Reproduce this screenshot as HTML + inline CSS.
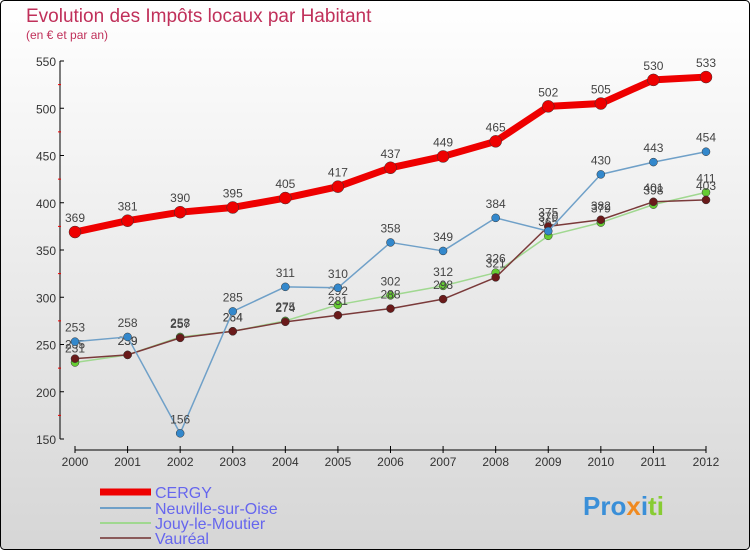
<!DOCTYPE html>
<html><head><meta charset="utf-8"><style>
body{margin:0;width:750px;height:550px;overflow:hidden;font-family:"Liberation Sans",sans-serif}
</style></head><body>
<svg width="750" height="550" xmlns="http://www.w3.org/2000/svg" font-family="Liberation Sans, sans-serif">
<defs><linearGradient id="bg" x1="0" y1="0" x2="0" y2="1"><stop offset="0" stop-color="#ffffff"/><stop offset="1" stop-color="#d6d6d6"/></linearGradient></defs>
<rect x="0.5" y="0.5" width="749" height="549" rx="4" fill="url(#bg)" stroke="#000"/>
<text x="26" y="22" font-size="19" fill="#c0305a">Evolution des Impôts locaux par Habitant</text>
<text x="26" y="39" font-size="12" fill="#c0305a">(en € et par an)</text>
<g id="axes"></g><g id="series"></g>
<g>
<line x1="100" y1="492" x2="151" y2="492" stroke="#ee0000" stroke-width="7"/>
<text x="155" y="498" font-size="16" fill="#6666ee">CERGY</text>
<line x1="100" y1="508" x2="151" y2="508" stroke="#6fa0c8" stroke-width="2"/>
<text x="155" y="514" font-size="16" fill="#6666ee">Neuville-sur-Oise</text>
<line x1="100" y1="523" x2="151" y2="523" stroke="#a0d890" stroke-width="2"/>
<text x="155" y="529" font-size="16" fill="#6666ee">Jouy-le-Moutier</text>
<line x1="100" y1="538" x2="151" y2="538" stroke="#8a5a5a" stroke-width="2"/>
<text x="155" y="544" font-size="16" fill="#6666ee">Vauréal</text>
</g>
<text x="583" y="515" font-size="26" font-weight="bold"><tspan fill="#3a8fd8">Pro</tspan><tspan fill="#f08a20">x</tspan><tspan fill="#3a8fd8">i</tspan><tspan fill="#88cc33">ti</tspan></text>
</svg>
<script>
const years=[2000,2001,2002,2003,2004,2005,2006,2007,2008,2009,2010,2011,2012];
const cergy=[369,381,390,395,405,417,437,449,465,502,505,530,533];
const neuville=[253,258,156,285,311,310,358,349,384,370,430,443,454];
const jouy=[231,239,258,264,275,292,302,312,326,365,379,398,411];
const vaureal=[235,239,257,264,274,281,288,298,321,375,382,401,403];
const yTicks=[150,200,250,300,350,400,450,500,550];
const NS="http://www.w3.org/2000/svg";
const X=i=>75+i*(706-75)/(years.length-1);
const Y=v=>439-(v-150)*(439-61)/400;
function mk(p,t,a){const e=document.createElementNS(NS,t);for(const k in a)e.setAttribute(k,a[k]);p.appendChild(e);return e;}
const ax=document.getElementById('axes');
let l=mk(ax,'line',{x1:60,y1:61,x2:60,y2:439,stroke:'#000'});


l=mk(ax,'line',{x1:75,y1:450,x2:706,y2:450,stroke:'#000'});


yTicks.forEach((v,i)=>{
 mk(ax,'line',{x1:60,y1:Y(v),x2:64,y2:Y(v),stroke:'#000'});
 if(i<yTicks.length-1)mk(ax,'line',{x1:58,y1:Y(v+25),x2:61,y2:Y(v+25),stroke:'#e00'});
 const t=mk(ax,'text',{x:56,y:Y(v)+5,'text-anchor':'end','font-size':12,fill:'#333'});
 t.textContent=v;
 
 
});
years.forEach((y,i)=>{
 mk(ax,'line',{x1:X(i),y1:446,x2:X(i),y2:453,stroke:'#000'});
 const t=mk(ax,'text',{x:X(i),y:466,'text-anchor':'middle','font-size':12,fill:'#333'});
 t.textContent=y;
 
 
});
const sg=document.getElementById('series');
function series(name,data,color,dot,w,r){
 const g=mk(sg,'g',{});
 
 
 const pl=mk(g,'polyline',{points:data.map((v,i)=>X(i)+','+Y(v)).join(' '),fill:'none',stroke:color,'stroke-width':w,'stroke-linejoin':'round'});
 
 
 data.forEach((v,i)=>{
  const c=mk(g,'circle',{cx:X(i),cy:Y(v),r:r,fill:dot,stroke:'#333','stroke-width':0.5});
  
  
  const t=mk(g,'text',{x:X(i),y:Y(v)-10,'text-anchor':'middle','font-size':12,fill:'#444'});
  t.textContent=v;
  
  
 });
}
series('jouy',jouy,'#a0d890','#66cc33',1.5,4);
series('vaureal',vaureal,'#7a3a3a','#6a1a1a',1.5,4);
series('neuville',neuville,'#6fa0c8','#3388cc',1.5,4);
series('cergy',cergy,'#ee0000','#ee0000',7,6);
</script>
</body></html>
